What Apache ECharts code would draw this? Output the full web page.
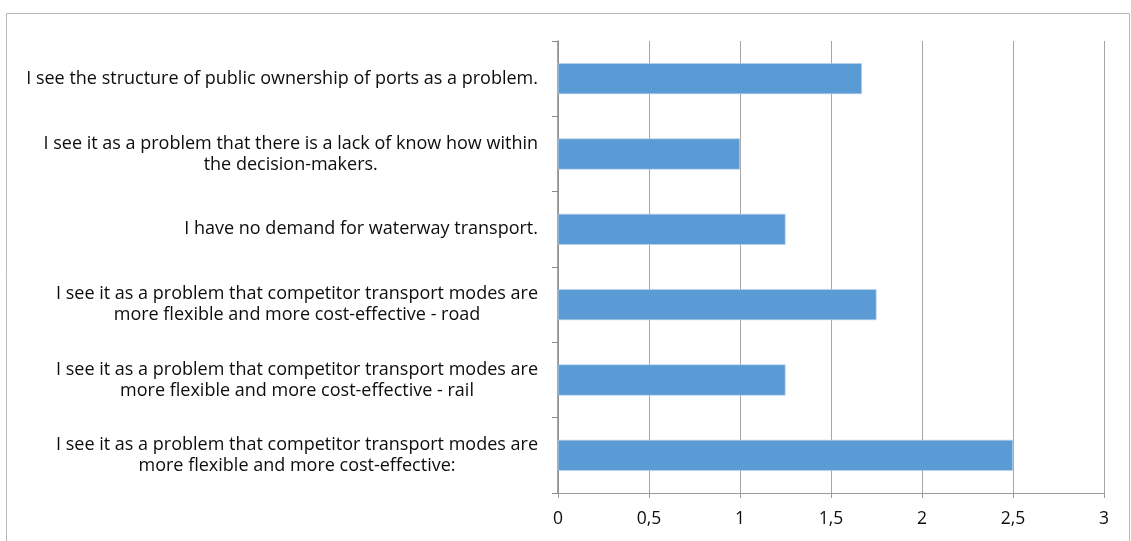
<!DOCTYPE html>
<html>
<head>
<meta charset="utf-8">
<script src="https://cdn.jsdelivr.net/npm/echarts@6/dist/echarts.min.js"></script>
<style>html,body{margin:0;padding:0;background:#fff}#c{width:1131px;height:541px}</style>
</head>
<body>
<div id="c"></div>
<script>
const categories = [
  "I see the structure of public ownership of ports as a problem.",
  "I see it as a problem that there is a lack of know how within\nthe decision-makers.",
  "I have no demand for waterway transport.",
  "I see it as a problem that competitor transport modes are\nmore flexible and more cost-effective - road",
  "I see it as a problem that competitor transport modes are\nmore flexible and more cost-effective - rail",
  "I see it as a problem that competitor transport modes are\nmore flexible and more cost-effective:"
];
const values = [1.67, 1.0, 1.25, 1.75, 1.25, 2.5];
const xMin = 0, xMax = 3, xStep = 0.5;

const chart = echarts.init(document.getElementById('c'), null, {renderer: 'canvas'});
const FONT = 'Open Sans';
chart.setOption({
  animation: false,
  backgroundColor: '#fff',
  graphic: [{
    type: 'rect', shape: {x: 6.5, y: 13.5, width: 1123, height: 560},
    style: {fill: 'none', stroke: '#b8b8b8', lineWidth: 1}, silent: true
  }],
  grid: {left: 558, right: 27, top: 41, bottom: 48, containLabel: false},
  xAxis: {
    type: 'value', min: xMin, max: xMax, interval: xStep,
    axisLine: {show: true, lineStyle: {color: '#9a9a9a', width: 1}},
    axisTick: {show: true, length: 5, lineStyle: {color: '#9a9a9a'}},
    splitLine: {show: true, lineStyle: {color: '#a6a6a6', width: 1}},
    axisLabel: {
      color: '#0d0d0d', fontFamily: FONT, fontSize: 17.5, margin: 17,
      formatter: v => String(v).replace('.', ',')
    }
  },
  yAxis: {
    type: 'category', data: categories, inverse: true,
    axisLine: {show: true, lineStyle: {color: '#8a8a8a', width: 1.5}},
    axisTick: {show: true, length: 6, lineStyle: {color: '#8a8a8a'}},
    axisLabel: {
      margin: 20, align: 'right',
      formatter: v => v.split('\n').map(s => '{c|' + s + '}').join('\n'),
      rich: {c: {align: 'center', color: '#0d0d0d', fontFamily: FONT, fontSize: 18, lineHeight: 21}}
    }
  },
  series: [{
    type: 'bar', data: values, barWidth: 31,
    itemStyle: {color: '#5b9bd5', borderColor: '#bcd5ec', borderWidth: 0.6}
  }]
});
</script>
</body>
</html>
